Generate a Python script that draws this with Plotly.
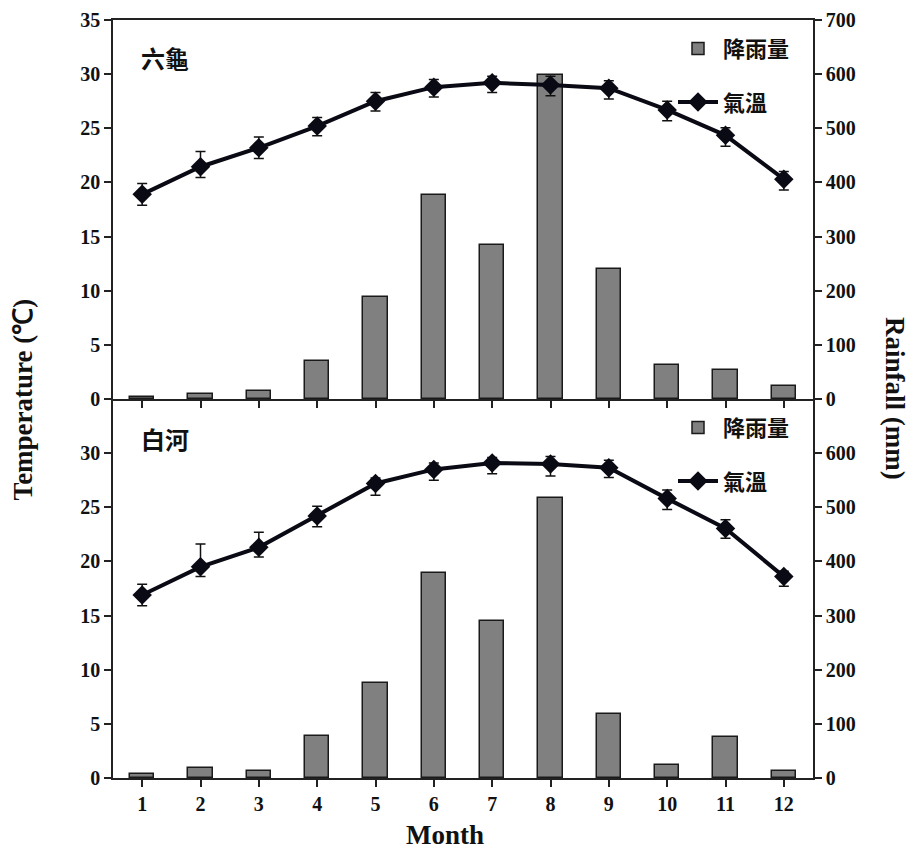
import plotly.graph_objects as go

months = list(range(1, 13))
month_labels = [str(m) for m in months]

# 六龜 (top panel)
lg_temp = [18.9, 21.45, 23.2, 25.2, 27.5, 28.8, 29.2, 29.0, 28.7, 26.7, 24.35, 20.3]
lg_temp_err_up = [1.0, 1.4, 1.0, 0.8, 0.8, 0.7, 0.6, 0.8, 0.7, 0.8, 0.7, 0.7]
lg_temp_err_dn = [1.0, 1.0, 1.0, 0.9, 0.9, 0.9, 0.9, 1.0, 1.0, 1.0, 1.0, 1.0]
lg_rain = [4, 9, 15, 71, 189, 376, 285, 599, 241, 62, 53, 24]

# 白河 (bottom panel)
bh_temp = [16.9, 19.5, 21.3, 24.2, 27.2, 28.5, 29.1, 29.0, 28.65, 25.8, 23.05, 18.6]
bh_temp_err_up = [1.0, 2.1, 1.4, 0.9, 0.5, 0.6, 0.5, 0.7, 0.7, 0.8, 0.8, 0.5]
bh_temp_err_dn = [1.0, 0.9, 0.9, 1.0, 1.1, 1.0, 1.0, 1.1, 0.9, 1.0, 0.9, 0.9]
bh_rain = [7, 19, 13, 77, 175, 379, 290, 517, 119, 24, 75, 13]

rain_name = "降雨量"
temp_name = "氣溫"
panel_names = ["六龜", "白河"]

temp_ticks = [0, 5, 10, 15, 20, 25, 30, 35]
rain_ticks = [0, 100, 200, 300, 400, 500, 600, 700]

SERIF = "Liberation Serif, Times New Roman, serif"
CJK = "Noto Sans CJK TC, Noto Sans CJK SC, sans-serif"
BAR_COLOR = "#808080"
LINE_COLOR = "#0a0a14"

fig = go.Figure()

def add_panel(rain, temp, up, dn, xa, y_rain, y_temp, legend_id):
    fig.add_trace(go.Bar(
        x=months, y=rain, name=rain_name, xaxis=xa, yaxis=y_rain,
        marker=dict(color=BAR_COLOR, line=dict(color="#1a1a1a", width=1.5)),
        width=0.42, legend=legend_id, legendgroup=legend_id + "r",
    ))
    fig.add_trace(go.Scatter(
        x=months, y=temp, name=temp_name, xaxis=xa, yaxis=y_temp,
        mode="lines+markers",
        line=dict(color=LINE_COLOR, width=4),
        marker=dict(symbol="diamond", size=15, color=LINE_COLOR),
        error_y=dict(type="data", array=up, arrayminus=dn, symmetric=False,
                     color="#111111", thickness=1.5, width=5),
        legend=legend_id, legendgroup=legend_id + "t",
    ))

add_panel(lg_rain, lg_temp, lg_temp_err_up, lg_temp_err_dn, "x", "y", "y2", "legend")
add_panel(bh_rain, bh_temp, bh_temp_err_up, bh_temp_err_dn, "x2", "y3", "y4", "legend2")

tickfont = dict(family=SERIF, size=20, color="#111111", weight="bold")
axis_common = dict(showgrid=False, zeroline=False, showline=True, linecolor="#222222",
                   linewidth=1.5, ticks="outside", ticklen=7, tickcolor="#222222",
                   tickwidth=1.5, tickfont=tickfont, automargin=False,
                   ticklabeloverflow="allow")

legend_common = dict(font=dict(family=CJK, size=22, color="#111111", weight="bold"),
                     bgcolor="rgba(0,0,0,0)", tracegroupgap=22, itemwidth=40,
                     xanchor="left", yanchor="top", traceorder="grouped")

# page body has an 8px default margin, so the figure is sized/offset to compensate
fig.update_layout(
    width=908, height=846,
    margin=dict(l=105, r=103, t=12, b=76, autoexpand=False),
    paper_bgcolor="white", plot_bgcolor="white",
    bargap=0,
    xaxis=dict(domain=[0, 1], anchor="y", range=[0.5, 12.5], tickvals=months,
               ticktext=month_labels, showticklabels=False, mirror=True, **axis_common),
    xaxis2=dict(domain=[0, 1], anchor="y3", range=[0.5, 12.5], tickvals=months,
                ticktext=month_labels, **axis_common),
    yaxis=dict(domain=[0.5, 1], anchor="x", side="right", range=[0, 700],
               tickvals=rain_ticks, **axis_common),
    yaxis2=dict(overlaying="y", anchor="x", side="left", range=[0, 35],
                tickvals=temp_ticks, **axis_common),
    yaxis3=dict(domain=[0, 0.5], anchor="x2", side="right", range=[0, 700],
                tickvals=rain_ticks[:-1], **axis_common),
    yaxis4=dict(overlaying="y3", anchor="x2", side="left", range=[0, 35],
                tickvals=temp_ticks[:-1], **axis_common),
    legend=dict(x=0.8, y=0.99, **legend_common),
    legend2=dict(x=0.8, y=0.49, **legend_common),
    showlegend=True,
)

title_font = dict(family=SERIF, size=27, color="#111111", weight="bold")
fig.add_annotation(text="Temperature (℃)", x=-0.128, y=0.5, xref="paper", yref="paper",
                   xanchor="center", yanchor="middle",
                   textangle=-90, showarrow=False, font=title_font)
fig.add_annotation(text="Rainfall (mm)", x=1.117, y=0.5, xref="paper", yref="paper",
                   xanchor="center", yanchor="middle",
                   textangle=90, showarrow=False, font=title_font)
fig.add_annotation(text="Month", x=0.474, y=-0.075, xref="paper", yref="paper",
                   xanchor="center", yanchor="middle",
                   showarrow=False, font=title_font)

panel_font = dict(family=CJK, size=24, color="#111111", weight="bold")
fig.add_annotation(text=panel_names[0], x=0.074, y=0.95, xref="paper", yref="paper",
                   xanchor="center", yanchor="middle",
                   showarrow=False, font=panel_font)
fig.add_annotation(text=panel_names[1], x=0.074, y=0.448, xref="paper", yref="paper",
                   xanchor="center", yanchor="middle",
                   showarrow=False, font=panel_font)

fig.write_html("out.html")
